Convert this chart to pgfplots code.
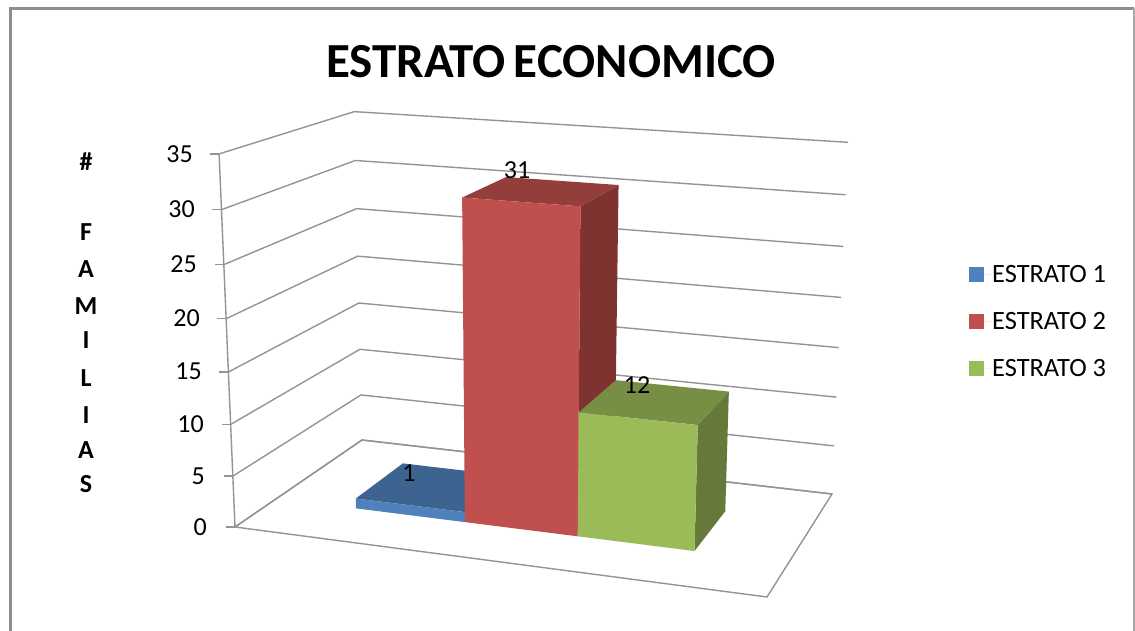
\documentclass[border=0pt]{standalone}
\usepackage{fontspec}
\setmainfont{Carlito}
\usepackage{pgfplots}
\pgfplotsset{compat=1.18}

% perspective of the chart box: X,Y run 0..1 (width, depth), Z is the value axis
\def\WW{(1-0.08033*\thisrow{X}+0.14303*\thisrow{Y}-0.0015*\thisrow{Z})}
\def\PX{((235+470.39*\thisrow{X}+178.78*\thisrow{Y}-0.78286*\thisrow{Z})/\WW)}
\def\PY{((527+22.04*\thisrow{X}-24.07*\thisrow{Y}-10.891*\thisrow{Z})/\WW)}

\definecolor{gridc}{HTML}{949494}
\definecolor{framec}{HTML}{8E8E8E}
\definecolor{blueF}{HTML}{4F81BD}
\definecolor{blueT}{HTML}{3D6491}
\definecolor{redF}{HTML}{C0504D}
\definecolor{redT}{HTML}{943E3B}
\definecolor{redS}{HTML}{7E3331}
\definecolor{greenF}{HTML}{9BBB59}
\definecolor{greenT}{HTML}{778F44}
\definecolor{greenS}{HTML}{657A3A}

\newcommand\gridline[1]{\addplot[gridc, line width=1.4pt, forget plot] table[x expr=\PX, y expr=\PY, row sep=\\]{X Y Z\\ 0 0 #1\\ 0 1 #1\\ 1 1 #1\\};
  \addplot[gridc, line width=1.4pt, forget plot] table[x expr=\PX-9*\thisrow{T}, y expr=\PY, row sep=\\]{X Y Z T\\ 0 0 #1 0\\ 0 0 #1 1\\};}
% one bar: x from, x to, value, front, top, side
\newcommand\barbox[6]{%
  \addplot[fill=#6, draw=none, forget plot] table[x expr=\PX, y expr=\PY, row sep=\\]{X Y Z\\ #2 0.3 0\\ #2 0.7 0\\ #2 0.7 #3\\ #2 0.3 #3\\};
  \addplot[fill=#5, draw=none, forget plot] table[x expr=\PX, y expr=\PY, row sep=\\]{X Y Z\\ #1 0.3 #3\\ #2 0.3 #3\\ #2 0.7 #3\\ #1 0.7 #3\\};
  \addplot[fill=#4, draw=none] table[x expr=\PX, y expr=\PY, row sep=\\]{X Y Z\\ #1 0.3 0\\ #2 0.3 0\\ #2 0.3 #3\\ #1 0.3 #3\\};}

\begin{document}
\begin{tikzpicture}
\begin{axis}[
  scale only axis, width=1135pt, height=631pt,
  xmin=0, xmax=1135, ymin=0, ymax=631, y dir=reverse,
  hide axis,
  legend style={draw=none, fill=none, at={(axis cs:969,321.5)}, anchor=west,
    font=\fontsize{26.4}{30}\selectfont, row sep=28.5pt, inner sep=0pt,
    nodes={inner sep=0pt}},
  legend cell align=left,
  legend image code/.code={\fill[#1] (0pt,-7.5pt) rectangle (15pt,7.5pt);
    \path (0pt,0pt) -- (23pt,0pt);},
]
\addplot[fill=white, draw=none, forget plot] coordinates {(0,0) (1135,0) (1135,631) (0,631)};
% outer frame
\addplot[framec, line width=2.5pt, forget plot] coordinates {(10.5,631) (10.5,8.5) (1134,8.5)};
\addplot[gridc!80, line width=1.5pt, forget plot] coordinates {(1134,8.5) (1134,631)};

% floor and walls
\addplot[gridc, line width=1.4pt, forget plot] table[x expr=\PX, y expr=\PY, row sep=\\]{X Y Z\\ 0 0 0\\ 1 0 0\\ 1 1 0\\ 0 1 0\\ 0 0 0\\};
\addplot[gridc, line width=1.4pt, forget plot] table[x expr=\PX, y expr=\PY, row sep=\\]{X Y Z\\ 0 0 0\\ 0 0 35\\};
\gridline{0}\gridline{5}\gridline{10}\gridline{15}\gridline{20}\gridline{25}\gridline{30}\gridline{35}

\barbox{0.1656}{0.3864}{1}{blueF}{blueT}{blueT}
\addlegendentry{ESTRATO 1}
\barbox{0.3864}{0.6073}{31}{redF}{redT}{redS}
\addlegendentry{ESTRATO 2}
\barbox{0.6073}{0.828}{12}{greenF}{greenT}{greenS}
\addlegendentry{ESTRATO 3}

\def\lab{\fontsize{26}{30}\selectfont}
\node[anchor=east, inner sep=0pt] at (axis cs:193,154) {\lab 35};
\node[anchor=east, inner sep=0pt] at (axis cs:195,209) {\lab 30};
\node[anchor=east, inner sep=0pt] at (axis cs:197,264) {\lab 25};
\node[anchor=east, inner sep=0pt] at (axis cs:200,318) {\lab 20};
\node[anchor=east, inner sep=0pt] at (axis cs:202,371) {\lab 15};
\node[anchor=east, inner sep=0pt] at (axis cs:204,424) {\lab 10};
\node[anchor=east, inner sep=0pt] at (axis cs:205,476) {\lab 5};
\node[anchor=east, inner sep=0pt] at (axis cs:207,527) {\lab 0};

\node[inner sep=0pt] at (axis cs:409,473) {\lab 1};
\node[inner sep=0pt] at (axis cs:517,170) {\lab 31};
\node[inner sep=0pt] at (axis cs:637,385) {\lab 12};

\node[inner sep=0pt] at (axis cs:551,62) {\fontsize{49}{55}\selectfont\bfseries ESTRATO\hspace{8pt}ECONOMICO};

\def\yl{\fontsize{26}{30}\selectfont\bfseries}
\node[inner sep=0pt] at (axis cs:86,162) {\yl \#};
\node[inner sep=0pt] at (axis cs:86,232) {\yl F};
\node[inner sep=0pt] at (axis cs:86,269) {\yl A};
\node[inner sep=0pt] at (axis cs:86,306) {\yl M};
\node[inner sep=0pt] at (axis cs:86,340) {\yl I};
\node[inner sep=0pt] at (axis cs:86,378) {\yl L};
\node[inner sep=0pt] at (axis cs:86,415) {\yl I};
\node[inner sep=0pt] at (axis cs:86,450) {\yl A};
\node[inner sep=0pt] at (axis cs:86,484) {\yl S};
\end{axis}
\end{tikzpicture}
\end{document}
